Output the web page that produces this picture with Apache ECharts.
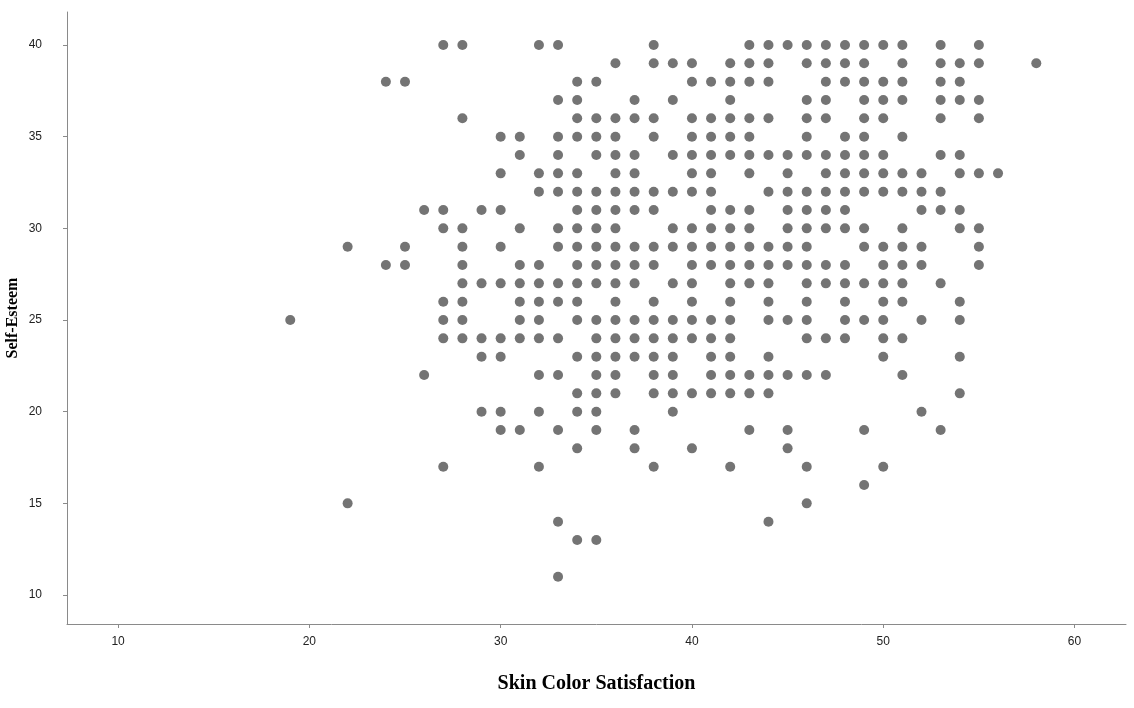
<!DOCTYPE html>
<html>
<head>
<meta charset="utf-8">
<script src="https://cdn.jsdelivr.net/npm/echarts@6/dist/echarts.min.js"></script>
<style>
html,body{margin:0;padding:0;background:#fff;}
#chart{width:1134px;height:708px;}
</style>
</head>
<body>
<div id="chart"></div>
<script>
// Self-Esteem level -> Skin Color Satisfaction values observed at that level
const se40 = [27,28,32,33,38,43,44,45,46,47,48,49,50,51,53,55];
const se39 = [36,38,39,40,42,43,44,46,47,48,49,51,53,54,55,58];
const se38 = [24,25,34,35,40,41,42,43,44,47,48,49,50,51,53,54];
const se37 = [33,34,37,39,42,46,47,49,50,51,53,54,55];
const se36 = [28,34,35,36,37,38,40,41,42,43,44,46,47,49,50,53,55];
const se35 = [30,31,33,34,35,36,38,40,41,42,43,46,48,49,51];
const se34 = [31,33,35,36,37,39,40,41,42,43,44,45,46,47,48,49,50,53,54];
const se33 = [30,32,33,34,36,37,40,41,43,45,47,48,49,50,51,52,54,55,56];
const se32 = [32,33,34,35,36,37,38,39,40,41,44,45,46,47,48,49,50,51,52,53];
const se31 = [26,27,29,30,34,35,36,37,38,41,42,43,45,46,47,48,52,53,54];
const se30 = [27,28,31,33,34,35,36,39,40,41,42,43,45,46,47,48,49,51,54,55];
const se29 = [22,25,28,30,33,34,35,36,37,38,39,40,41,42,43,44,45,46,49,50,51,52,55];
const se28 = [24,25,28,31,32,34,35,36,37,38,40,41,42,43,44,45,46,47,48,50,51,52,55];
const se27 = [28,29,30,31,32,33,34,35,36,37,39,40,42,43,44,46,47,48,49,50,51,53];
const se26 = [27,28,31,32,33,34,36,38,40,42,44,46,48,50,51,54];
const se25 = [19,27,28,31,32,34,35,36,37,38,39,40,41,42,44,45,46,48,49,50,52,54];
const se24 = [27,28,29,30,31,32,33,35,36,37,38,39,40,41,42,46,47,48,50,51];
const se23 = [29,30,34,35,36,37,38,39,41,42,44,50,54];
const se22 = [26,32,33,35,36,38,39,41,42,43,44,45,46,47,51];
const se21 = [34,35,36,38,39,40,41,42,43,44,54];
const se20 = [29,30,32,34,35,39,52];
const se19 = [30,31,33,35,37,43,45,49,53];
const se18 = [34,37,40,45];
const se17 = [27,32,38,42,46,50];
const se16 = [49];
const se15 = [22,46];
const se14 = [33,44];
const se13 = [34,35];
const se12 = [];
const se11 = [33];

const xTickLabels = [10,20,30,40,50,60];
const yTickLabels = [10,15,20,25,30,35,40];

const levels = {40:se40,39:se39,38:se38,37:se37,36:se36,35:se35,34:se34,33:se33,32:se32,31:se31,
  30:se30,29:se29,28:se28,27:se27,26:se26,25:se25,24:se24,23:se23,22:se22,21:se21,
  20:se20,19:se19,18:se18,17:se17,16:se16,15:se15,14:se14,13:se13,12:se12,11:se11};

const points = [];
Object.keys(levels).forEach(function(k){
  levels[k].forEach(function(x){ points.push([x, Number(k)]); });
});

const chart = echarts.init(document.getElementById('chart'), null, {renderer:'canvas'});
chart.setOption({
  animation: false,
  backgroundColor: '#ffffff',
  grid: {left: 67, top: 12, right: 8, bottom: 84, containLabel: false, outerBoundsMode: 'none'},
  xAxis: {
    type: 'value',
    min: 7.33, max: 62.69,
    name: 'Skin Color Satisfaction',
    nameLocation: 'middle',
    nameGap: 50,
    nameMoveOverlap: false,
    nameTextStyle: {fontFamily: 'Liberation Serif', fontWeight: 'bold', fontSize: 20, color: '#000'},
    axisLine: {show: true, lineStyle: {color: '#8a8a8a', width: 1}},
    axisTick: {show: true, length: 4, customValues: xTickLabels, lineStyle: {color: '#8a8a8a'}},
    axisLabel: {customValues: xTickLabels, fontFamily: 'Liberation Sans', fontSize: 12, color: '#222', margin: 12},
    splitLine: {show: false}
  },
  yAxis: {
    type: 'value',
    min: 8.42, max: 41.8,
    name: 'Self-Esteem',
    nameLocation: 'middle',
    nameGap: 46,
    nameMoveOverlap: false,
    nameRotate: 90,
    nameTextStyle: {fontFamily: 'Liberation Serif', fontWeight: 'bold', fontSize: 16, color: '#000'},
    axisLine: {show: true, lineStyle: {color: '#8a8a8a', width: 1}},
    axisTick: {show: true, length: 4, customValues: yTickLabels, lineStyle: {color: '#8a8a8a'}},
    axisLabel: {customValues: yTickLabels, fontFamily: 'Liberation Sans', fontSize: 12, color: '#222', margin: 25},
    splitLine: {show: false}
  },
  series: [{
    type: 'scatter',
    data: points,
    symbol: 'circle',
    symbolSize: 10,
    itemStyle: {color: '#747474', opacity: 1}
  }]
});
</script>
</body>
</html>
